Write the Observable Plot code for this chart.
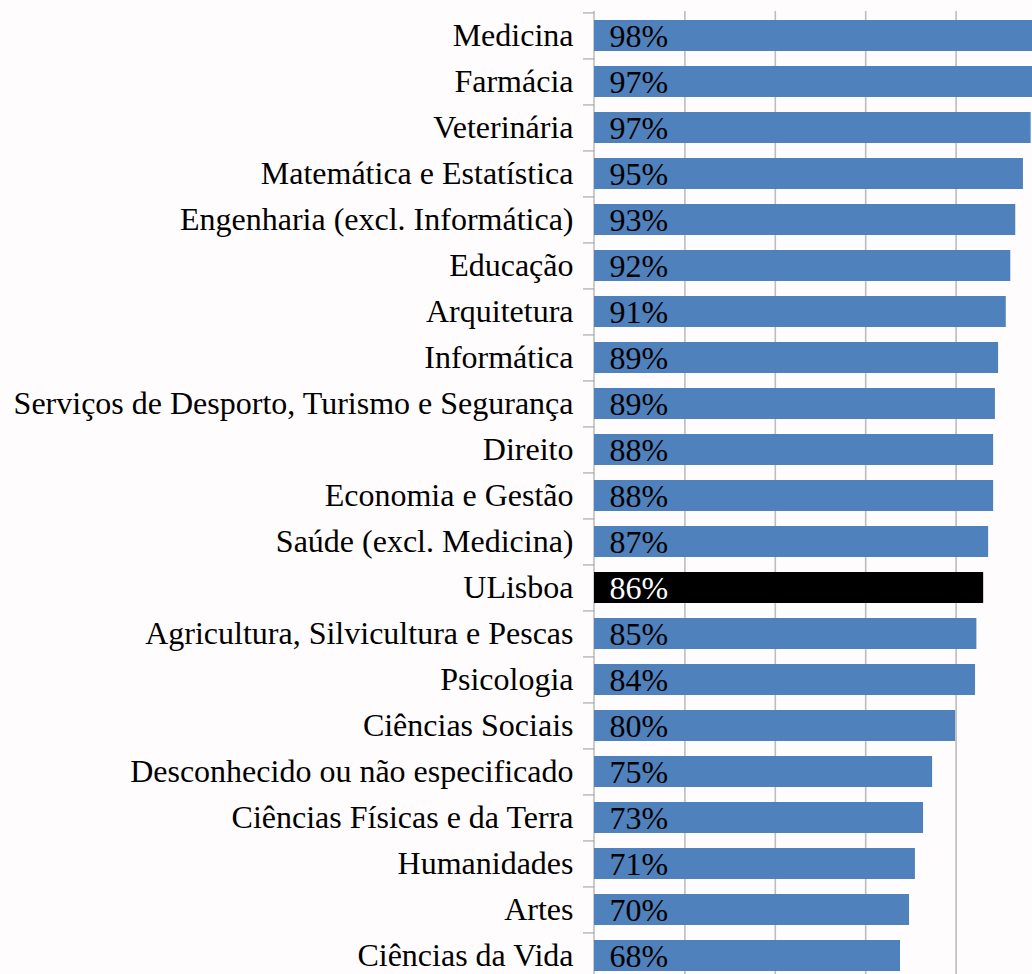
<!DOCTYPE html>
<html>
<head>
<meta charset="utf-8">
<script src="https://cdn.jsdelivr.net/npm/d3@7"></script>
<script src="https://cdn.jsdelivr.net/npm/@observablehq/plot@0.6"></script>
<style>
  html, body { margin: 0; padding: 0; background: #fffcfd; }
  #chart svg { display: block; }
</style>
</head>
<body>
<div id="chart"></div>
<script>
const categories = [
  "Medicina", "Farmácia", "Veterinária", "Matemática e Estatística",
  "Engenharia (excl. Informática)", "Educação", "Arquitetura", "Informática",
  "Serviços de Desporto, Turismo e Segurança", "Direito", "Economia e Gestão",
  "Saúde (excl. Medicina)", "ULisboa", "Agricultura, Silvicultura e Pescas",
  "Psicologia", "Ciências Sociais", "Desconhecido ou não especificado",
  "Ciências Físicas e da Terra", "Humanidades", "Artes", "Ciências da Vida"
];
const values = [
  98.2, 97.3, 96.6, 94.9, 93.2, 92.1, 91.1, 89.4, 88.7, 88.3, 88.3,
  87.2, 86.1, 84.6, 84.3, 79.9, 74.8, 72.8, 71.0, 69.7, 67.7
];
const valueLabels = [
  "98%", "97%", "97%", "95%", "93%", "92%", "91%", "89%", "89%", "88%", "88%",
  "87%", "86%", "85%", "84%", "80%", "75%", "73%", "71%", "70%", "68%"
];
const highlight = "ULisboa";
const gridTicks = [20, 40, 60, 80, 100];

const data = categories.map((c, i) => ({category: c, value: values[i], label: valueLabels[i]}));

const FONT = "'Liberation Serif', 'Times New Roman', serif";
const BLUE = "#4f81bd";
const STEP = 46.1;

const chart = Plot.plot({
  width: 1032,
  height: 974,
  marginLeft: 594,
  marginRight: 0,
  marginTop: 11,
  marginBottom: 0,
  style: {background: "#fffcfd", fontFamily: FONT, fontSize: "32px", color: "#000"},
  x: {domain: [0, 100], range: [594, 1046], axis: null},
  y: {domain: categories, range: [11, 11 + STEP * categories.length], paddingInner: 0.326, paddingOuter: 0.163, align: 0.5, axis: null},
  marks: [
    Plot.ruleX(gridTicks, {x: d => d, stroke: "#bdbdbd", strokeWidth: 1.6}),
    Plot.ruleX([0], {x: d => d, stroke: "#9a9a9a", strokeWidth: 1, dx: -0.5}),
    Plot.ruleY(categories, {y: d => d, x1: 0, x2: 0, insetLeft: -11, dy: -STEP / 2, stroke: "#9a9a9a", strokeWidth: 1}),
    Plot.barX(data, {y: "category", x: "value", fill: d => d.category === highlight ? "#000000" : BLUE}),
    Plot.text(data, {y: "category", x: 0, text: "label", dx: 15, dy: 0.5, textAnchor: "start",
      fill: d => d.category === highlight ? "#ffffff" : "#000000",
      fontSize: 32, fontFamily: FONT}),
    Plot.axisY({tickSize: 0, tickPadding: 21, fontSize: 32, fontFamily: FONT, color: "#000", label: null})
  ]
});

document.getElementById("chart").appendChild(chart);
</script>
</body>
</html>
